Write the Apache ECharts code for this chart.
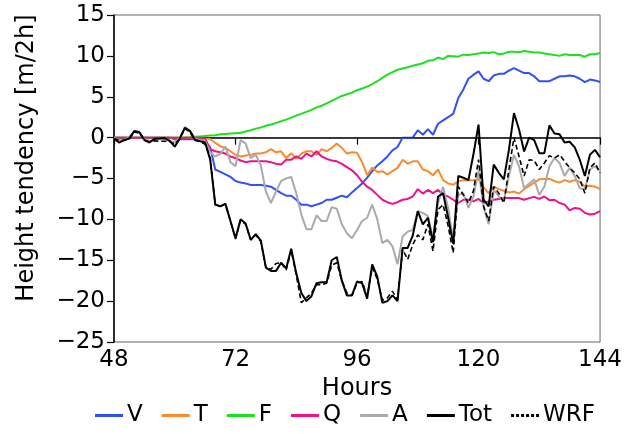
<!DOCTYPE html>
<html>
<head>
<meta charset="utf-8">
<script src="https://cdn.jsdelivr.net/npm/echarts@6/dist/echarts.min.js"></script>
<style>html,body{margin:0;padding:0;background:#fff}#c{width:625px;height:434px}</style>
</head>
<body>
<div id="c"></div>
<script>
const hours = [48,49,50,51,52,53,54,55,56,57,58,59,60,61,62,63,64,65,66,67,68,69,70,71,72,73,74,75,76,77,78,79,80,81,82,83,84,85,86,87,88,89,90,91,92,93,94,95,96,97,98,99,100,101,102,103,104,105,106,107,108,109,110,111,112,113,114,115,116,117,118,119,120,121,122,123,124,125,126,127,128,129,130,131,132,133,134,135,136,137,138,139,140,141,142,143,144];
const xTicks = [48,72,96,120,144];
const yTicks = [-25,-20,-15,-10,-5,0,5,10,15];

const V = [0,0,0,0,0,0,0,0,0,0,0,0,
  -0.2,-0.2,-0.2,-0.2,-0.2,-0.2,-0.45,-1.2,
  -3.9,-4.2,-4.5,-4.8,-5.3,-5.5,-5.6,-5.8,-5.8,-5.8,
  -5.9,-6.0,-6.4,-6.8,-7.1,-7.1,-7.6,-8.2,-8.2,-8.4,
  -8.2,-8.0,-7.6,-7.6,-7.35,-7.1,-7.3,-6.7,-6.15,-5.6,
  -4.9,-4.1,-3.4,-2.9,-2.3,-1.55,-1.15,0,0,0,
  0.9,0.35,1.05,0.35,1.7,2.1,2.5,2.9,4.85,5.9,
  7.2,7.7,8.1,7.2,6.9,7.6,7.8,7.8,8.2,8.5,
  8.2,7.9,7.9,7.5,6.9,6.9,6.9,7.2,7.5,7.5,
  7.6,7.5,7.2,6.8,7.1,7.0,6.8];
const T = [0,0,0,0,0,0,0,0,0,0,0,0,
  0,0,0,0,0,0,0,-0.2,
  -0.65,-1.05,-1.26,-1.67,-2.1,-2.3,-2.2,-2.1,-1.95,-1.95,
  -1.8,-1.4,-1.8,-1.67,-2.5,-1.9,-2.6,-1.95,-1.67,-1.67,
  -2.1,-1.4,-1.67,-1.26,-0.73,-1.26,-1.95,-1.8,-1.85,-3.0,
  -4.6,-3.65,-4.2,-4.1,-4.5,-4.1,-3.7,-2.7,-3.2,-2.9,
  -2.9,-3.9,-4.1,-4.6,-3.9,-5.2,-5.6,-5.75,-5.35,-5.2,
  -5.2,-5.2,-5.1,-6.1,-6.8,-6.0,-6.3,-6.5,-6.7,-6.6,
  -6.85,-6.3,-5.9,-5.5,-5.1,-5.05,-5.05,-5.3,-5.5,-5.2,
  -5.4,-5.2,-5.4,-6.0,-5.9,-6.0,-6.3];
const F = [0,0,0,0,0,0,0,0,0,0,0,0,
  0,0,0.02,0.05,0.1,0.15,0.2,0.25,
  0.3,0.4,0.45,0.5,0.55,0.6,0.75,0.9,1.1,1.25,
  1.45,1.6,1.8,2.0,2.2,2.45,2.7,2.9,3.15,3.4,
  3.7,3.9,4.2,4.5,4.8,5.1,5.3,5.5,5.8,6.0,
  6.25,6.55,6.9,7.3,7.7,8.0,8.3,8.45,8.6,8.8,
  8.95,9.1,9.4,9.45,9.8,9.6,10.0,9.95,9.9,10.15,
  10.1,10.2,10.3,10.4,10.35,10.45,10.2,10.3,10.5,10.5,
  10.45,10.6,10.5,10.4,10.4,10.3,10.2,10.1,10.0,10.2,
  10.1,10.1,10.1,9.9,10.2,10.2,10.35];
const Q = [0,0,0,0,0,0,0,0,0,0,0,0,
  0,0,0,0,0,0,-0.1,-1.4,
  -1.67,-1.8,-1.95,-2.3,-2.5,-2.8,-3.0,-2.9,-2.9,-2.9,
  -2.9,-3.0,-3.2,-3.3,-2.7,-2.7,-2.3,-2.6,-1.95,-2.3,
  -1.67,-2.3,-2.6,-2.8,-2.9,-3.2,-3.6,-4.0,-4.6,-5.4,
  -6.0,-6.4,-7.0,-7.6,-7.9,-8.1,-7.9,-7.6,-7.5,-7.2,
  -6.3,-6.85,-6.4,-6.8,-6.4,-7.0,-7.2,-7.6,-8.0,-7.6,
  -7.6,-7.8,-7.5,-8.0,-7.8,-7.6,-7.5,-7.4,-7.4,-7.4,
  -7.4,-7.6,-7.4,-7.25,-7.5,-7.2,-7.65,-7.6,-8.0,-8.2,
  -8.9,-8.6,-8.7,-9.2,-9.4,-9.3,-9.0];
const A = [0,-0.3,-0.3,0.1,0.7,0.6,-0.2,-0.4,-0.3,-0.2,-0.2,-0.4,
  -0.6,0,1.3,0.9,-0.1,-0.3,-0.4,-1.8,
  -2.3,-2.0,-1.1,-3.0,-3.5,-0.3,-0.7,-2.5,-2.1,-3.4,
  -6.6,-8.0,-6.6,-5.3,-5.0,-4.8,-6.8,-9.4,-11.2,-11.2,
  -9.5,-10.2,-10.2,-8.5,-8.7,-10.6,-11.7,-12.3,-11.3,-10.2,
  -9.8,-8.2,-10.0,-12.9,-12.5,-13.3,-15.5,-12.1,-11.5,-11.3,
  -9.0,-9.2,-9.6,-12.3,-8.0,-6.0,-8.6,-12.5,-7.0,-6.8,
  -8.6,-7.2,-4.0,-8.5,-10.6,-6.4,-7.2,-7.8,-4.7,-2.1,
  -3.5,-6.2,-5.6,-5.1,-7.0,-6.0,-3.5,-2.5,-3.1,-4.7,
  -3.7,-4.7,-6.2,-6.3,-3.9,-3.5,-4.1];
const Tot = [-0.15,-0.6,-0.3,-0.1,0.8,0.7,-0.3,-0.6,-0.15,-0.1,-0.05,-0.4,
  -1.1,-0.1,1.2,0.8,-0.25,-0.45,-0.6,-2.7,
  -8.2,-8.4,-8.1,-10.2,-12.3,-10.0,-10.5,-12.5,-11.8,-12.6,
  -15.9,-16.3,-16.3,-15.3,-16.0,-13.6,-16.6,-19.0,-20.0,-19.4,
  -17.8,-17.7,-17.7,-15.0,-14.6,-17.5,-19.3,-19.3,-17.6,-17.8,
  -19.7,-15.5,-17.0,-20.2,-20.0,-19.3,-20.0,-13.5,-13.5,-12.0,
  -9.0,-10.6,-9.8,-12.8,-7.2,-6.8,-9.8,-13.0,-4.7,-4.9,
  -5.2,-2.0,1.6,-7.6,-8.4,-3.3,-4.3,-5.1,-1.5,3.0,
  1.0,-1.7,0,-0.3,-1.9,-1.9,1.5,0.5,0.4,-0.6,
  -0.5,-1.2,-2.7,-4.7,-2.1,-1.5,-2.4];
const WRF = [-0.1,-0.35,-0.35,-0.2,0.7,0.6,-0.3,-0.5,-0.4,-0.45,-0.45,-0.5,
  -0.8,-0.1,1.1,0.7,-0.35,-0.5,-0.8,-2.5,
  -8.2,-8.4,-8.1,-10.2,-12.4,-10.1,-10.6,-12.5,-11.9,-12.7,
  -15.9,-16.1,-15.4,-15.3,-16.2,-13.8,-16.8,-20.2,-19.6,-19.0,
  -18.0,-18.0,-17.8,-15.6,-15.3,-17.5,-19.0,-19.3,-17.8,-17.6,
  -19.4,-15.9,-17.3,-19.9,-19.6,-18.8,-19.8,-13.7,-14.9,-13.1,
  -11.9,-12.5,-10.6,-13.9,-8.8,-8.2,-10.8,-14.1,-6.0,-7.0,
  -8.0,-6.5,-2.7,-8.4,-10.2,-6.0,-6.8,-8.0,-3.9,0,
  -2.3,-4.7,-2.7,-2.8,-3.9,-3.1,-2.2,-2.5,-2.1,-2.9,
  -3.7,-4.3,-5.1,-6.8,-3.7,-3.1,-4.3];

const seriesNames = ['V','T','F','Q','A','Tot','WRF'];
const seriesData = [V,T,F,Q,A,Tot,WRF];
const seriesColors = ['#3050f8','#f98a2e','#1ee01e','#ee1188','#aaaaaa','#000000','#000000'];

const FONT = "'DejaVu Sans',sans-serif";
const chart = echarts.init(document.getElementById('c'), null, {renderer:'canvas'});

const series = seriesNames.map((n,i)=>({
  name:n, type:'line', symbol:'none', animation:false,
  data: hours.map((h,k)=>[h, seriesData[i][k]]),
  lineStyle:{color:seriesColors[i], width: n==='WRF'?1.6:2, type: n==='WRF'?[5,3]:'solid'},
  itemStyle:{color:seriesColors[i]},
  z: i+2
}));
series[0].markLine = {silent:true, symbol:'none', label:{show:false}, animation:false,
  lineStyle:{color:'#333', width:1, type:'solid'}, data:[{yAxis:0}]};

const solidIcon = 'path://M0,0H28V3H0Z';
const dashIcon = 'path://M0,0H3V3H0Z M5,0H8V3H5Z M10,0H13V3H10Z M15,0H18V3H15Z M20,0H23V3H20Z M25,0H28V3H25Z';

chart.setOption({
  animation:false,
  grid:{left:114, right:20, top:15, bottom:92, show:true, borderColor:'#666', borderWidth:1},
  xAxis:{type:'value', min:48, max:144, interval:24,
    axisLine:{lineStyle:{color:'#000', width:1.5}},
    axisTick:{length:7, lineStyle:{color:'#000', width:1.2}},
    axisLabel:{fontFamily:FONT, fontSize:23, color:'#000', margin:7,
      formatter:v=> xTicks.includes(v)? String(v):''},
    splitLine:{show:false},
    name:'Hours', nameLocation:'middle', nameGap:35,
    nameTextStyle:{fontFamily:FONT, fontSize:24, color:'#000'}},
  yAxis:{type:'value', min:-25, max:15, interval:5,
    axisLine:{show:true, lineStyle:{color:'#000', width:1.5}},
    axisTick:{show:true, length:7, lineStyle:{color:'#000', width:1.2}},
    axisLabel:{fontFamily:FONT, fontSize:23, color:'#000', margin:9,
      formatter:v=> yTicks.includes(v)? String(v).replace('-','\u2212'):''},
    splitLine:{show:false}},
  legend:{left:90, top:399, width:535, itemWidth:28, itemHeight:3, itemGap:19,
    textStyle:{fontFamily:FONT, fontSize:23, color:'#000', padding:[0,0,0,-1]},
    data: seriesNames.map(n=>({name:n, icon: n==='WRF'? dashIcon : solidIcon}))},
  graphic:[{type:'text', x:27, y:158, rotation:Math.PI/2,
    style:{text:'Height tendency [m/2h]', fontFamily:FONT, fontSize:24, fill:'#000',
      textAlign:'center', textVerticalAlign:'middle'}}],
  series: series
});
</script>
</body>
</html>
